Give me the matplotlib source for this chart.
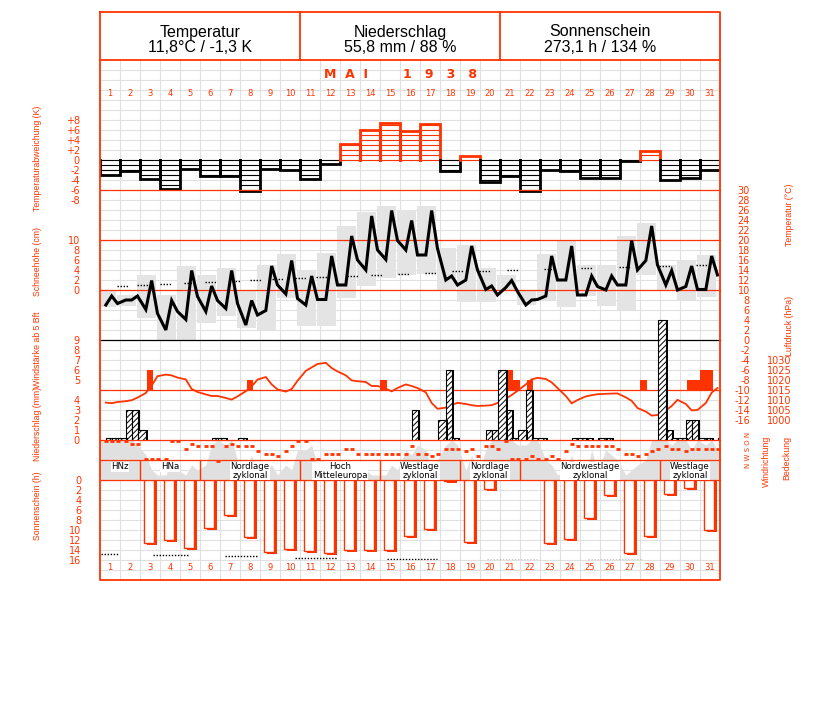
import numpy as np
import matplotlib
matplotlib.use("Agg")
import matplotlib.pyplot as plt
from matplotlib import font_manager

# ---------------- Mai 1938 ----------------
days = np.arange(1, 32)

# Temperaturabweichung vom Mittel (K), Tageswerte
temp_dev = [-3.0, -2.2, -3.8, -5.7, -1.8, -3.2, -3.1, -6.3, -1.7, -1.9,
            -3.7, -0.7, 3.2, 6.0, 7.5, 5.9, 7.2, -2.1, 0.9, -4.3,
            -3.2, -6.3, -1.9, -2.1, -3.5, -3.5, -0.1, 1.9, -3.9, -3.5, -2.0]

# Temperatur (°C) zu den Terminen 7, 14, 21 Uhr
t07 = [7.0, 8.0, 6.1, 2.0, 4.1, 5.7, 6.3, 3.0, 5.9, 9.2,
       7.0, 8.1, 11.0, 14.0, 16.1, 18.0, 17.0, 12.0, 12.0, 10.1,
       10.5, 7.0, 8.8, 12.0, 9.0, 10.0, 11.0, 15.9, 11.0, 10.7, 10.1]
t14 = [8.8, 8.0, 11.9, 7.9, 13.9, 10.8, 13.9, 7.9, 14.8, 15.9,
       12.8, 16.8, 20.8, 24.8, 25.9, 23.9, 25.9, 12.8, 18.8, 10.8,
       11.9, 8.0, 16.8, 18.8, 12.8, 12.8, 19.9, 22.8, 13.9, 14.8, 16.8]
t21 = [7.3, 8.8, 5.3, 5.7, 8.7, 7.9, 7.3, 5.0, 11.0, 8.3,
       8.1, 11.0, 16.0, 18.0, 19.9, 17.0, 18.3, 11.0, 14.0, 9.0,
       9.7, 8.1, 12.0, 9.0, 10.7, 11.0, 14.0, 15.0, 10.0, 10.1, 13.0]
t_max = [9.8, 8.9, 13.0, 9.0, 14.8, 13.0, 14.5, 9.7, 15.0, 17.2,
         14.0, 17.3, 22.7, 25.5, 26.8, 26.0, 26.8, 18.4, 19.0, 14.3,
         13.0, 10.0, 17.2, 19.9, 15.0, 15.0, 20.7, 23.3, 15.0, 16.0, 17.0]
t_min = [6.6, 6.8, 4.3, -0.3, -0.3, 3.3, 4.8, 2.3, 2.0, 8.3,
         2.8, 2.7, 8.3, 10.7, 12.3, 13.0, 13.2, 10.0, 7.5, 7.5,
         9.8, 6.9, 8.0, 6.5, 8.8, 6.7, 6.0, 13.0, 10.0, 8.0, 8.5]

# langjaehriges Mittel der Temperatur (°C)
norm_day = [1.63, 2.65, 3.8, 5.0, 6.05, 7.25, 8.3, 9.38, 10.55, 11.6, 13.13,
            14.33, 15.7, 17.05, 18.38, 19.75, 21.13, 22.98, 24.83, 26.75,
            28.75, 30.58]
norm_t = [10.7, 11.0, 11.2, 11.3, 11.5, 11.8, 12.0, 12.1, 12.3, 12.5, 12.8,
          13.0, 13.2, 13.3, 13.7, 13.8, 14.0, 14.2, 14.3, 14.5, 14.7, 14.9]

# Luftdruck (hPa) 7, 14, 21 Uhr
p07 = [1008.7, 1009.4, 1013.5, 1022.7, 1020.3, 1012.8, 1011.0, 1014.4, 1021.5, 1014.2,
       1024.6, 1028.6, 1022.3, 1019.0, 1015.7, 1017.8, 1013.8, 1006.2, 1008.0, 1007.2,
       1010.6, 1017.8, 1020.5, 1012.0, 1011.8, 1013.1, 1011.3, 1004.2, 1004.8, 1008.0, 1008.5]
p14 = [1008.4, 1009.9, 1017.2, 1022.3, 1015.5, 1012.0, 1010.2, 1016.8, 1017.8, 1015.5,
       1026.3, 1026.0, 1019.8, 1017.0, 1014.3, 1017.0, 1008.5, 1007.5, 1007.4, 1007.4,
       1012.5, 1020.3, 1018.8, 1008.3, 1012.4, 1013.2, 1009.6, 1002.2, 1007.0, 1004.8, 1013.7]
p21 = [1009.0, 1011.2, 1021.9, 1021.2, 1014.0, 1012.0, 1011.8, 1020.2, 1015.3, 1019.6,
       1028.0, 1024.3, 1019.4, 1017.0, 1016.0, 1016.0, 1005.6, 1008.6, 1007.0, 1008.5,
       1014.6, 1021.1, 1016.0, 1010.0, 1012.9, 1013.3, 1006.0, 1002.5, 1010.1, 1005.0, 1016.0]

# Windstaerke ab 5 Bft (0 = darunter), Terminwerte
wind07 = [0, 0, 0, 0, 0, 0, 0, 0, 0, 0, 0, 0, 0, 0, 5, 0, 0, 0, 0, 0,
          0, 0, 0, 0, 0, 0, 0, 5, 5, 0, 6]
wind14 = [0, 0, 6, 0, 0, 0, 0, 5, 0, 0, 0, 0, 0, 0, 0, 0, 0, 0, 0, 0,
          6, 5, 0, 0, 0, 0, 0, 0, 0, 5, 6]
wind21 = [0, 0, 0, 0, 0, 0, 0, 0, 0, 0, 0, 0, 0, 0, 0, 0, 0, 0, 0, 0,
          5, 0, 0, 0, 0, 0, 0, 0, 0, 5, 0]

# Niederschlag (mm) fuer 7-14, 14-21, 21-7 Uhr
prec_a = [0.2, 3.0, 0, 0, 0, 0, 0, 0, 0, 0, 0, 0, 0, 0, 0, 0, 0, 7.0, 0, 1.0,
          3.0, 5.0, 0, 0, 0.2, 0.2, 0, 0, 1.0, 2.0, 0.2]
prec_b = [0.2, 3.0, 0, 0, 0, 0.2, 0, 0, 0, 0, 0, 0, 0, 0, 0, 3.0, 0, 0.2, 0, 1.0,
          0.2, 0.2, 0, 0.2, 0, 0, 0, 0, 0.2, 2.0, 0]
prec_c = [0.2, 1.0, 0, 0, 0, 0.2, 0.2, 0, 0, 0, 0, 0, 0, 0, 0, 0, 2.0, 0, 0, 7.0,
          1.0, 0.2, 0, 0.2, 0.2, 0, 0, 12.0, 0.2, 0.2, 0.2]

# Bedeckung (Achtel) und Windrichtung (Grad) 7, 14, 21 Uhr
cloud07 = [8, 8, 5, 1, 1, 3, 7, 2, 2, 3, 6, 2, 1, 2, 1, 6, 6, 7, 2, 6, 8, 7, 4, 2, 1, 6, 1, 4, 8, 8, 7]
cloud14 = [8, 8, 2, 4, 3, 7, 8, 5, 3, 2, 7, 1, 2, 1, 3, 5, 2, 8, 5, 8, 8, 8, 3, 5, 6, 5, 2, 8, 7, 6, 8]
cloud21 = [8, 7, 1, 2, 2, 8, 4, 1, 1, 6, 3, 1, 1, 1, 2, 7, 4, 7, 1, 8, 7, 8, 1, 1, 2, 4, 3, 8, 8, 8, 6]
dir07 = [0, 0, 315, 315, 135, 90, 90, 90, 225, 180, 0, 225, 135, 225, 225, 225,
         225, 135, 180, 90, 0, 315, 315, 180, 90, 90, 225, 225, 90, 180, 135]
dir14 = [0, 45, 315, 0, 45, 90, 45, 90, 225, 90, 315, 225, 135, 225, 225, 90,
         270, 135, 135, 90, 315, 270, 270, 45, 90, 90, 225, 180, 135, 135, 135]
dir21 = [0, 45, 315, 0, 90, 360, 90, 180, 270, 0, 315, 225, 225, 225, 225, 225,
         225, 135, 270, 135, 315, 315, 315, 90, 90, 135, 270, 135, 135, 135, 135]

# Grosswetterlagen
wt_first = [1, 3, 6, 11, 15, 19, 22, 29]
wt_last = [2, 5, 10, 14, 18, 21, 28, 31]
wt_name = ["HNz", "HNa", "Nordlage\nzyklonal", "Hoch\nMitteleuropa",
           "Westlage\nzyklonal", "Nordlage\nzyklonal", "Nordwestlage\nzyklonal",
           "Westlage\nzyklonal"]

# Sonnenscheindauer (h)
sun = [0, 0, 12.5, 12.0, 13.6, 9.5, 7.0, 11.3, 14.3, 13.7,
       14.1, 14.5, 14.0, 13.9, 13.9, 11.2, 9.7, 0.2, 12.4, 1.7,
       0, 0, 12.5, 11.8, 7.5, 2.9, 14.5, 11.2, 2.8, 1.5, 10.0]
sun_norm_from = [0.55, 3.15, 6.75, 10.25, 14.85, 19.85, 24.9, 30.25]
sun_norm_to = [1.4, 4.9, 8.4, 12.35, 17.35, 22.35, 27.6, 31.5]
sun_norm = [14.8, 15.0, 15.2, 15.5, 15.7, 15.9, 16.0, 16.2]

header = [("Temperatur", "11,8°C / -1,3 K"),
          ("Niederschlag", "55,8 mm / 88 %"),
          ("Sonnenschein", "273,1 h / 134 %")]

# ---------------- layout ----------------
RED = '#ff3300'
GRID = '#e0e0e0'
BOX = '#e4e4e4'
W, H = 827.0, 702.0
X0, X1 = 100, 720

installed = {f.name for f in font_manager.fontManager.ttflist}
if 'Liberation Sans Narrow' in installed:
    TITLE_FONT, TITLE_SIZE = 'Liberation Sans Narrow', 7.5
else:
    TITLE_FONT, TITLE_SIZE = 'Liberation Sans', 6.3

plt.rcParams['hatch.linewidth'] = 0.7

fig = plt.figure(figsize=(8.27, 7.02), dpi=100)

bg = fig.add_axes([0, 0, 1, 1])
bg.set_xlim(0, W)
bg.set_ylim(H, 0)
bg.axis('off')
bg.set_zorder(0)


def panel(top, bottom, ylim, z):
    ax = fig.add_axes([X0 / W, 1 - bottom / H, (X1 - X0) / W, (bottom - top) / H])
    ax.set_xlim(0.5, 31.5)
    ax.set_ylim(*ylim)
    ax.patch.set_visible(False)
    for s in ax.spines.values():
        s.set_visible(False)
    ax.set_xticks([])
    ax.set_yticks([])
    ax.set_zorder(z)
    ax.tick_params(length=0, labelsize=7, colors=RED)
    return ax


def left_ticks(ax, ticks, labels, pad=14.4):
    ax.set_yticks(ticks, labels=labels)
    ax.tick_params(axis='y', length=0, pad=pad, labelsize=7, labelcolor=RED)


def right_ticks(ax, ticks, labels, pad):
    ax.yaxis.tick_right()
    ax.set_yticks(ticks, labels=labels)
    ax.tick_params(axis='y', length=0, pad=pad, labelsize=7, labelcolor=RED)
    for lab in ax.get_yticklabels():
        lab.set_horizontalalignment('right')


# grid
for y in range(70, 580, 10):
    bg.plot([X0, X1], [y, y], color=GRID, lw=0.8)
for x in range(120, 720, 20):
    bg.plot([x, x], [60, 580], color=GRID, lw=0.8)

# header
for i, (t1, t2) in enumerate(header):
    cx = 200 + 200 * i
    bg.text(cx, 32, t1, ha='center', va='center', fontsize=11.5, family='Liberation Sans')
    bg.text(cx, 48, t2, ha='center', va='center', fontsize=11.5, family='Liberation Sans')
bg.text(400, 75, "M  A  I        1   9   3   8", ha='center', va='center', fontsize=9,
        color=RED, weight='bold')

# observation times as fractional days
obs_frac = np.array([7, 14, 21]) / 24.0
x_obs = (days[:, None] - 0.5 + obs_frac[None, :]).ravel()

# ---- Temperaturabweichung ----
axd = panel(100, 200, (-8, 12), 1)
for d, v in zip(days, temp_dev):
    col = RED if v >= 0 else 'black'
    sgn = 1 if v >= 0 else -1
    for k in range(0, int(np.floor(abs(v))) + 1):
        axd.plot([d - 0.5, d + 0.5], [sgn * k, sgn * k], color=col, lw=0.8)
    axd.plot([d - 0.5, d - 0.5, d + 0.5, d + 0.5], [0, v, v, 0], color=col, lw=2.0,
             solid_joinstyle='miter')
left_ticks(axd, [8, 6, 4, 2, 0, -2, -4, -6, -8],
           ['+8', '+6', '+4', '+2', '0', '-2', '-4', '-6', '-8'])
axd.set_xticks(days, labels=[str(d) for d in days])
axd.tick_params(axis='x', top=False, bottom=False, labeltop=True, labelbottom=False,
                pad=1.5, labelsize=6, labelcolor=RED)

# ---- Temperatur ----
axt = panel(190, 440, (-20, 30), 1)
axt.bar(days - 0.17, np.array(t_max) - np.array(t_min), width=0.98, bottom=t_min,
        color=BOX, zorder=1)
axt.hlines(norm_t, np.array(norm_day) - 0.28, np.array(norm_day) + 0.28,
           colors='black', linestyles=(0, (1, 1.2)), lw=1.0, zorder=2)
for y, c in [(190, RED), (240, RED), (290, RED), (340, 'black'), (390, RED),
             (440, RED), (460, RED), (480, RED)]:
    axt.plot([X0, X1], [y, y], color=c, lw=0.9, transform=bg.transData,
             clip_on=False, zorder=2.5)
temps = np.column_stack([t07, t14, t21]).ravel()
axt.plot(x_obs, temps, color='black', lw=2.2, zorder=3, solid_joinstyle='miter')
right_ticks(axt, list(range(30, -17, -2)), [str(v) for v in range(30, -17, -2)], 21.6)

# ---- Schneehoehe ----
axs = panel(240, 290, (0, 10), 1)
left_ticks(axs, [10, 8, 6, 4, 2, 0], ['10', '8', '6', '4', '2', '0'])

# ---- Luftdruck ----
axp = panel(340, 440, (990, 1040), 1.2)
press = np.column_stack([p07, p14, p21]).ravel()
axp.plot(x_obs, press, color=RED, lw=1.3)
right_ticks(axp, [1030, 1025, 1020, 1015, 1010, 1005, 1000],
            ['1030', '1025', '1020', '1015', '1010', '1005', '1000'], 51.6)

# ---- Windstaerke ----
axw = panel(340, 390, (4, 9), 1.3)
for i, ws in enumerate([wind07, wind14, wind21]):
    ws = np.array(ws, dtype=float)
    m = ws > 0
    axw.bar(days[m] - 0.5 + i / 3.0, ws[m] - 4, width=1 / 3.0, bottom=4,
            align='edge', color=RED, lw=0)
left_ticks(axw, [9, 8, 7, 6, 5], ['9', '8', '7', '6', '5'])

# ---- Niederschlag ----
axn = panel(300, 440, (0, 14), 1.5)
starts = [7 / 24.0, 14 / 24.0, 21 / 24.0]
widths = [7 / 24.0, 7 / 24.0, 10 / 24.0]
for i, pr in enumerate([prec_a, prec_b, prec_c]):
    pr = np.array(pr, dtype=float)
    m = pr > 0
    left = days[m] - 0.5 + starts[i]
    axn.bar(left + 0.12, pr[m], width=widths[i], align='edge', color='black', lw=0)
    axn.bar(left, pr[m], width=widths[i], align='edge', facecolor='white',
            edgecolor='black', hatch='//////', lw=0.8)
left_ticks(axn, [4, 3, 2, 1, 0], ['4', '3', '2', '1', '0'])

# ---- Bedeckung / Windrichtung ----
axc = panel(440, 480, (0, 8), 0.5)
clouds = np.column_stack([cloud07, cloud14, cloud21]).ravel()
xc = np.concatenate([[0.5], x_obs, [31.5]])
yc = np.concatenate([[clouds[0]], clouds, [clouds[-1]]])
axc.fill_between(xc, 0, yc, color=GRID, lw=0)

axr = panel(440, 480, (702, -18), 0.6)
dirs = np.column_stack([dir07, dir14, dir21]).ravel()
axr.plot(x_obs, dirs, ls='none', marker='_', ms=3.2, mew=2.0, color=RED)

# ---- Grosswetterlage ----
axg = panel(460, 480, (0, 1), 2)
for f, l, name in zip(wt_first, wt_last, wt_name):
    if f > 1:
        axg.plot([f - 0.5, f - 0.5], [0, 1], color=RED, lw=1.0)
    axg.text((f + l) / 2.0, 0.88, name, ha='center', va='top', fontsize=6.2,
             linespacing=0.95, multialignment='center',
             bbox=dict(facecolor='white', edgecolor='none', pad=0.3))

# ---- Sonnenschein ----
axo = panel(480, 560, (16, 0), 2)
sun_a = np.array(sun)
m = sun_a > 0
axo.bar(days[m] - 0.15, sun_a[m] + 0.4, width=0.5, align='edge', color=RED, lw=0)
axo.bar(days[m] - 0.3, sun_a[m], width=0.5, align='edge', facecolor='white',
        edgecolor=RED, lw=1.0)
axo.hlines(sun_norm, sun_norm_from, sun_norm_to, colors='black',
           linestyles=(0, (1, 1.2)), lw=1.0)
left_ticks(axo, list(range(0, 17, 2)), [str(v) for v in range(0, 17, 2)], 13.5)
axo.set_xticks(days, labels=[str(d) for d in days])
axo.tick_params(axis='x', top=False, bottom=False, labelbottom=True, pad=2.5,
                labelsize=6, labelcolor=RED)

# ---- frame and titles ----
top = fig.add_axes([0, 0, 1, 1])
top.set_xlim(0, W)
top.set_ylim(H, 0)
top.axis('off')
top.set_zorder(5)
top.plot([X0, X1, X1, X0, X0], [12, 12, 580, 580, 12], color=RED, lw=1.3)
top.plot([X0, X1], [60, 60], color=RED, lw=1.3)
for x in (300, 500):
    top.plot([x, x], [12, 60], color=RED, lw=1.3)

titles_left = [("Temperaturabweichung (K)", 158), ("Schneehöhe (cm)", 262),
               ("Windstärke ab 5 Bft", 350), ("Niederschlag (mm)", 424),
               ("Sonnenschein (h)", 506)]
for t, y in titles_left:
    top.text(37, y, t, rotation=90, ha='center', va='center', color=RED,
             fontsize=TITLE_SIZE, family=TITLE_FONT)
titles_right = [(790, "Temperatur (°C)", 215), (790, "Luftdruck (hPa)", 326),
                (766, "Windrichtung", 461), (787, "Bedeckung", 458)]
for x, t, y in titles_right:
    top.text(x, y, t, rotation=90, ha='center', va='center', color=RED,
             fontsize=TITLE_SIZE, family=TITLE_FONT)
top.text(748, 450, "N W S O N", rotation=90, ha='center', va='center', color=RED,
         fontsize=5)

fig.savefig("out.png", dpi=100)
